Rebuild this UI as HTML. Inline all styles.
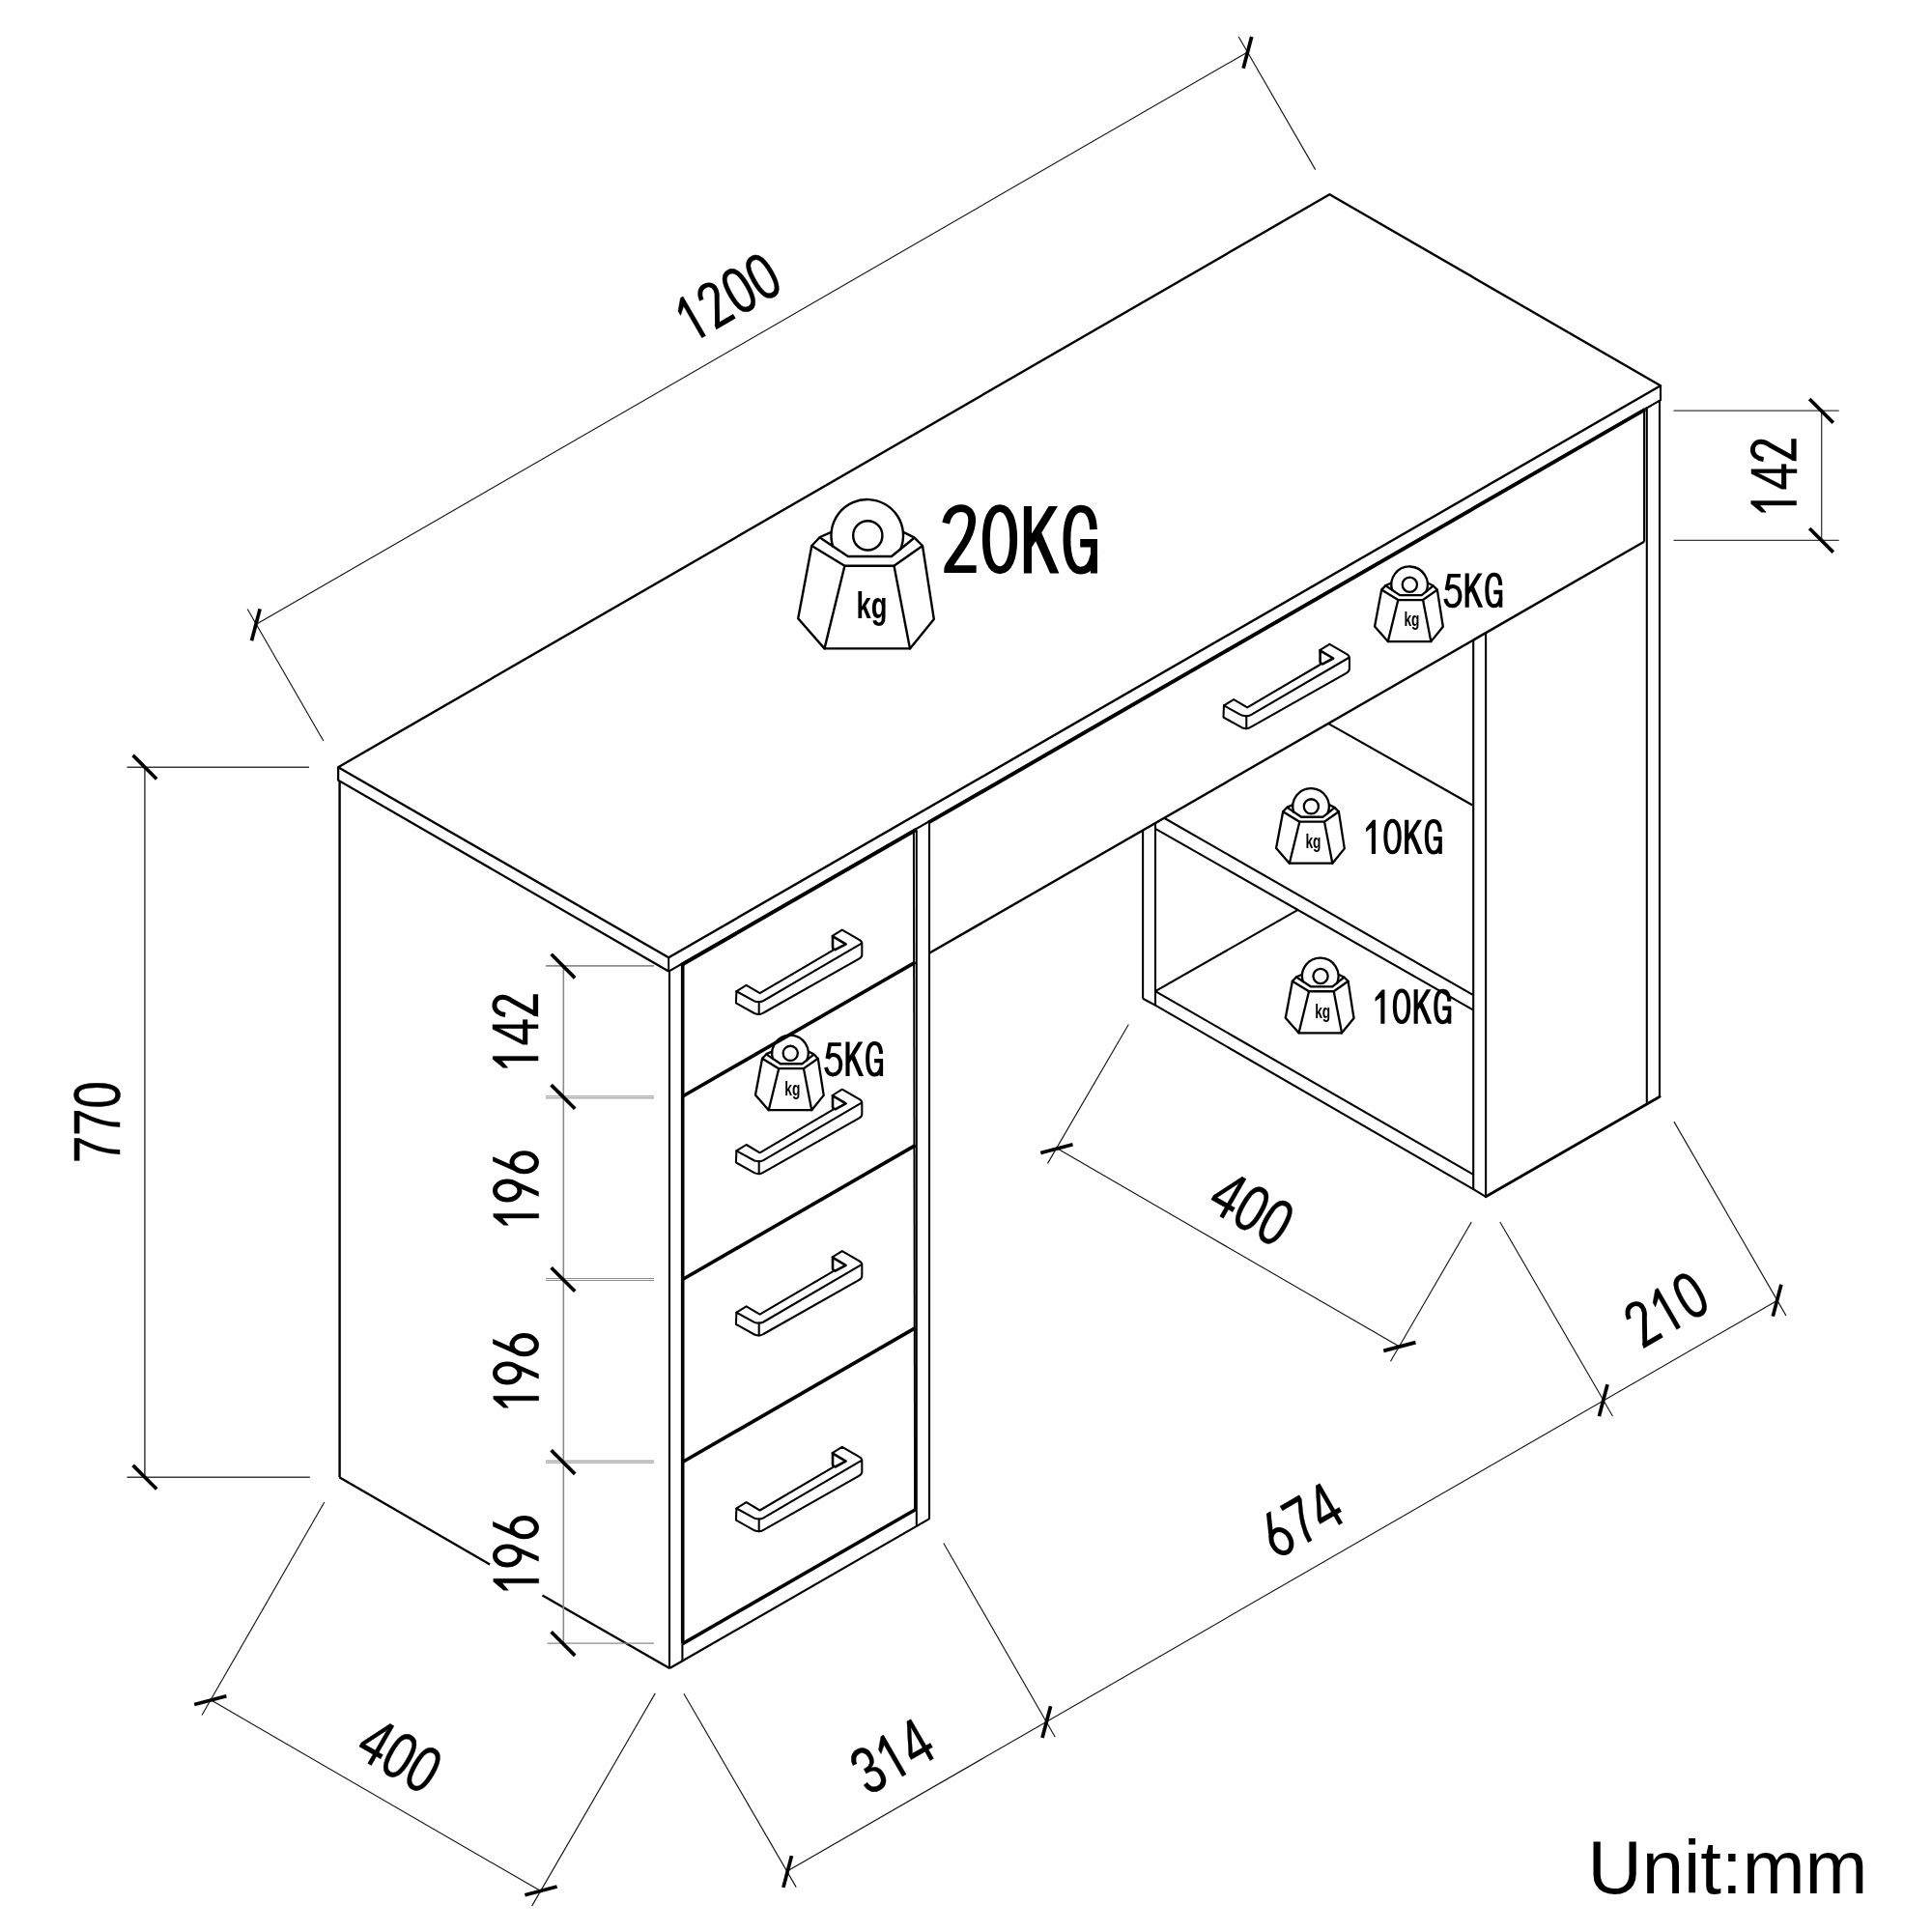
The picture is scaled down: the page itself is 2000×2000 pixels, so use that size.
<!DOCTYPE html>
<html><head><meta charset="utf-8"><title>Desk dimensions</title>
<style>
html,body{margin:0;padding:0;background:#fff;}
body{width:2000px;height:2000px;overflow:hidden;font-family:"Liberation Sans",sans-serif;}
svg{display:block;will-change:transform;}
</style></head><body>
<svg role="img" aria-label="Desk dimension drawing, unit mm" width="2000" height="2000" viewBox="0 0 2000 2000">
<rect width="2000" height="2000" fill="#fefefe"/>
<g id="desk">
<path d="M350.1 794.2 L1376.4 201.2 L1719.0 399.3 L692.2 991.2 Z" fill="none" stroke="#000" stroke-width="2.4" stroke-linejoin="round"/>
<path d="M350.1 794.2 L350.1 807.7 L692.2 1005.6" fill="none" stroke="#000" stroke-width="2.3" stroke-linejoin="miter"/>
<path d="M692.2 1005.6 L1719.0 414.2 L1719.0 399.3" fill="none" stroke="#000" stroke-width="2.1" stroke-linejoin="miter"/>
<line x1="692.2" y1="991.2" x2="692.2" y2="1005.6" stroke="#000" stroke-width="1.9" stroke-linecap="butt"/>
<line x1="351.6" y1="808.3" x2="351.6" y2="1529.2" stroke="#000" stroke-width="2.4" stroke-linecap="butt"/>
<line x1="351.3" y1="1529.2" x2="507.1" y2="1619.6" stroke="#000" stroke-width="2.3" stroke-linecap="butt"/>
<line x1="561.5" y1="1651.4" x2="693.2" y2="1727.0" stroke="#000" stroke-width="2.3" stroke-linecap="butt"/>
<line x1="693.0" y1="1005.6" x2="693.0" y2="1727.0" stroke="#000" stroke-width="2.1" stroke-linecap="butt"/>
<line x1="706.7" y1="998.0" x2="706.7" y2="1701.6" stroke="#000" stroke-width="3.6" stroke-linecap="butt"/>
<line x1="706.4" y1="1701.6" x2="706.4" y2="1719.4" stroke="#000" stroke-width="2.1" stroke-linecap="butt"/>
<line x1="693.2" y1="1727.0" x2="962.3" y2="1572.2" stroke="#000" stroke-width="2.1" stroke-linecap="butt"/>
<line x1="705.3" y1="999.0" x2="949.1" y2="858.5" stroke="#000" stroke-width="3.9" stroke-linecap="butt"/>
<line x1="706.6" y1="1135.0" x2="947.6" y2="996.1" stroke="#000" stroke-width="3.6" stroke-linecap="butt"/>
<line x1="706.6" y1="1324.5" x2="947.6" y2="1185.6" stroke="#000" stroke-width="3.6" stroke-linecap="butt"/>
<line x1="706.6" y1="1513.5" x2="947.6" y2="1374.6" stroke="#000" stroke-width="3.6" stroke-linecap="butt"/>
<line x1="706.6" y1="1701.6" x2="947.6" y2="1562.7" stroke="#000" stroke-width="3.6" stroke-linecap="butt"/>
<line x1="945.9" y1="861.5" x2="947.1" y2="1563.5" stroke="#000" stroke-width="2.0" stroke-linecap="butt"/>
<line x1="948.8" y1="860.0" x2="948.8" y2="1579.6" stroke="#000" stroke-width="2.0" stroke-linecap="butt"/>
<line x1="962.0" y1="851.0" x2="962.0" y2="1572.3" stroke="#000" stroke-width="2.1" stroke-linecap="butt"/>
<line x1="961.0" y1="851.6" x2="1703.0" y2="423.9" stroke="#000" stroke-width="3.9" stroke-linecap="butt"/>
<line x1="1702.1" y1="425.0" x2="1702.1" y2="560.8" stroke="#000" stroke-width="2.1" stroke-linecap="butt"/>
<line x1="961.9" y1="986.8" x2="1702.0" y2="560.8" stroke="#000" stroke-width="2.4" stroke-linecap="butt"/>
<line x1="1704.8" y1="421.0" x2="1704.8" y2="1141.8" stroke="#000" stroke-width="2.1" stroke-linecap="butt"/>
<line x1="1718.0" y1="414.2" x2="1718.0" y2="1135.6" stroke="#000" stroke-width="2.1" stroke-linecap="butt"/>
<line x1="1183.1" y1="859.0" x2="1183.1" y2="1033.7" stroke="#000" stroke-width="2.1" stroke-linecap="butt"/>
<line x1="1196.0" y1="852.0" x2="1196.0" y2="1040.6" stroke="#000" stroke-width="2.1" stroke-linecap="butt"/>
<path d="M1183.1 1033.7 L1196.0 1040.6 L1525.3 1231.2 L1538.1 1238.8" fill="none" stroke="#000" stroke-width="2.1" stroke-linejoin="miter"/>
<line x1="1538.1" y1="1238.8" x2="1718.2" y2="1135.3" stroke="#000" stroke-width="2.8" stroke-linecap="round"/>
<line x1="1525.2" y1="662.6" x2="1525.2" y2="1231.2" stroke="#000" stroke-width="2.1" stroke-linecap="butt"/>
<line x1="1538.1" y1="655.1" x2="1538.1" y2="1238.8" stroke="#000" stroke-width="2.1" stroke-linecap="butt"/>
<line x1="1205.5" y1="847.0" x2="1524.8" y2="1029.9" stroke="#000" stroke-width="2.1" stroke-linecap="butt"/>
<line x1="1196.0" y1="857.8" x2="1524.8" y2="1045.3" stroke="#000" stroke-width="2.1" stroke-linecap="butt"/>
<line x1="1375.7" y1="749.3" x2="1524.3" y2="833.5" stroke="#000" stroke-width="2.1" stroke-linecap="butt"/>
<line x1="1196.0" y1="1026.1" x2="1343.6" y2="941.8" stroke="#000" stroke-width="2.1" stroke-linecap="butt"/>
<line x1="1196.0" y1="1026.1" x2="1524.8" y2="1215.6" stroke="#000" stroke-width="2.1" stroke-linecap="butt"/>
</g>
<defs>
<g id="handle" fill="none" stroke="#000" stroke-width="2.05" stroke-linejoin="round" stroke-linecap="round">
<path d="M0 0 L10.2 -6.3 L24.2 2 L99.6 -42.4"/>
<path d="M99.2 -57.3 L109.4 -63.6 L126.7 -53.6 Q129.9 -51.7 129.9 -49.9 L129.9 -37.8 Q129.9 -35.5 126.7 -33.6 L27.9 22.3 Q25.6 23.8 23.3 23.8 Q21 23.8 18.6 22.8 L-0.5 12.1 L0 0 L18.6 10.2 Q21 10.9 23.3 10.9 Q25.6 10.9 27.9 9.8 L129.9 -49.9"/>
<path d="M23.3 10.9 L23.3 23.8"/>
<path d="M99.6 -57 L99.6 -45.6 Q99.8 -43.4 102.2 -43 L113.2 -48.9 L100.2 -56.6" stroke-width="2.6"/>
</g>
</defs>
<use href="#handle" x="762.4" y="1026.2"/>
<use href="#handle" x="762.4" y="1191.3"/>
<use href="#handle" x="762.4" y="1358.7"/>
<use href="#handle" x="762.4" y="1561.5"/>
<use href="#handle" x="1267.0" y="730.4"/>
<g id="dims">
<line x1="264.8" y1="646.5" x2="1291.1" y2="54.2" stroke="#111" stroke-width="1.1" stroke-linecap="butt"/>
<line x1="256.2" y1="630.4" x2="334.9" y2="767.1" stroke="#111" stroke-width="1.1" stroke-linecap="butt"/>
<line x1="1282.2" y1="37.9" x2="1361.7" y2="175.6" stroke="#111" stroke-width="1.1" stroke-linecap="butt"/>
<line x1="260.5" y1="663.2" x2="269.1" y2="630.4" stroke="#000" stroke-width="3.7" stroke-linecap="butt"/>
<line x1="1287.1" y1="70.8" x2="1295.7" y2="38.0" stroke="#000" stroke-width="3.7" stroke-linecap="butt"/>
<line x1="149.9" y1="794.2" x2="149.9" y2="1529.2" stroke="#3a3a3a" stroke-width="1.5" stroke-linecap="butt"/>
<line x1="131.5" y1="794.2" x2="320.0" y2="794.2" stroke="#3a3a3a" stroke-width="1.5" stroke-linecap="butt"/>
<line x1="131.5" y1="1529.2" x2="320.8" y2="1529.2" stroke="#3a3a3a" stroke-width="1.5" stroke-linecap="butt"/>
<line x1="137.6" y1="781.9" x2="162.2" y2="806.5" stroke="#000" stroke-width="3.7" stroke-linecap="butt"/>
<line x1="137.6" y1="1516.9" x2="162.2" y2="1541.5" stroke="#000" stroke-width="3.7" stroke-linecap="butt"/>
<line x1="1885.7" y1="425.2" x2="1885.7" y2="559.3" stroke="#3a3a3a" stroke-width="1.3" stroke-linecap="butt"/>
<line x1="1732.5" y1="425.2" x2="1903.7" y2="425.2" stroke="#3a3a3a" stroke-width="1.3" stroke-linecap="butt"/>
<line x1="1732.5" y1="559.3" x2="1903.7" y2="559.3" stroke="#3a3a3a" stroke-width="1.3" stroke-linecap="butt"/>
<line x1="1873.2" y1="413.0" x2="1897.8" y2="437.6" stroke="#000" stroke-width="3.7" stroke-linecap="butt"/>
<line x1="1873.2" y1="547.0" x2="1897.8" y2="571.6" stroke="#000" stroke-width="3.7" stroke-linecap="butt"/>
<line x1="583.3" y1="999.9" x2="583.3" y2="1701.2" stroke="#8c8c8c" stroke-width="1.6" stroke-linecap="butt"/>
<line x1="565.0" y1="999.9" x2="677.0" y2="999.9" stroke="#8c8c8c" stroke-width="1.6" stroke-linecap="butt"/>
<line x1="565.0" y1="1134.8" x2="677.0" y2="1134.8" stroke="#8c8c8c" stroke-width="1.0" stroke-linecap="butt"/>
<line x1="565.0" y1="1136.8" x2="677.0" y2="1136.8" stroke="#8c8c8c" stroke-width="1.0" stroke-linecap="butt"/>
<line x1="565.0" y1="1323.5" x2="677.0" y2="1323.5" stroke="#8c8c8c" stroke-width="1.0" stroke-linecap="butt"/>
<line x1="565.0" y1="1325.5" x2="677.0" y2="1325.5" stroke="#8c8c8c" stroke-width="1.0" stroke-linecap="butt"/>
<line x1="565.0" y1="1512.2" x2="677.0" y2="1512.2" stroke="#8c8c8c" stroke-width="1.0" stroke-linecap="butt"/>
<line x1="565.0" y1="1514.2" x2="677.0" y2="1514.2" stroke="#8c8c8c" stroke-width="1.0" stroke-linecap="butt"/>
<line x1="566.5" y1="1701.2" x2="677.0" y2="1701.2" stroke="#8c8c8c" stroke-width="1.3" stroke-linecap="butt"/>
<line x1="570.6" y1="987.8" x2="595.2" y2="1012.4" stroke="#000" stroke-width="3.7" stroke-linecap="butt"/>
<line x1="570.6" y1="1123.1" x2="595.2" y2="1147.7" stroke="#000" stroke-width="3.7" stroke-linecap="butt"/>
<line x1="570.6" y1="1312.2" x2="595.2" y2="1336.8" stroke="#000" stroke-width="3.7" stroke-linecap="butt"/>
<line x1="570.6" y1="1501.3" x2="595.2" y2="1525.9" stroke="#000" stroke-width="3.7" stroke-linecap="butt"/>
<line x1="570.6" y1="1689.3" x2="595.2" y2="1713.9" stroke="#000" stroke-width="3.7" stroke-linecap="butt"/>
<line x1="335.8" y1="1555.1" x2="209.0" y2="1775.6" stroke="#111" stroke-width="1.1" stroke-linecap="butt"/>
<line x1="678.3" y1="1752.9" x2="550.6" y2="1973.1" stroke="#111" stroke-width="1.1" stroke-linecap="butt"/>
<line x1="217.8" y1="1759.6" x2="558.4" y2="1956.8" stroke="#111" stroke-width="1.1" stroke-linecap="butt"/>
<line x1="201.2" y1="1764.5" x2="234.4" y2="1755.7" stroke="#000" stroke-width="3.7" stroke-linecap="butt"/>
<line x1="543.4" y1="1961.8" x2="576.6" y2="1953.0" stroke="#000" stroke-width="3.7" stroke-linecap="butt"/>
<line x1="707.9" y1="1753.2" x2="824.2" y2="1953.6" stroke="#111" stroke-width="1.1" stroke-linecap="butt"/>
<line x1="976.8" y1="1597.6" x2="1092.3" y2="1798.3" stroke="#111" stroke-width="1.1" stroke-linecap="butt"/>
<line x1="1552.8" y1="1265.0" x2="1669.4" y2="1466.0" stroke="#111" stroke-width="1.1" stroke-linecap="butt"/>
<line x1="1732.9" y1="1161.1" x2="1848.9" y2="1361.9" stroke="#111" stroke-width="1.1" stroke-linecap="butt"/>
<line x1="814.9" y1="1937.1" x2="1839.5" y2="1346.4" stroke="#111" stroke-width="1.1" stroke-linecap="butt"/>
<line x1="810.9" y1="1953.9" x2="819.5" y2="1921.1" stroke="#000" stroke-width="3.7" stroke-linecap="butt"/>
<line x1="1079.0" y1="1799.0" x2="1087.6" y2="1766.2" stroke="#000" stroke-width="3.7" stroke-linecap="butt"/>
<line x1="1655.4" y1="1466.1" x2="1664.0" y2="1433.3" stroke="#000" stroke-width="3.7" stroke-linecap="butt"/>
<line x1="1835.3" y1="1362.6" x2="1843.9" y2="1329.8" stroke="#000" stroke-width="3.7" stroke-linecap="butt"/>
<line x1="1168.3" y1="1060.5" x2="1084.5" y2="1204.4" stroke="#111" stroke-width="1.1" stroke-linecap="butt"/>
<line x1="1523.2" y1="1265.1" x2="1439.5" y2="1409.2" stroke="#111" stroke-width="1.1" stroke-linecap="butt"/>
<line x1="1093.8" y1="1188.6" x2="1448.8" y2="1394.1" stroke="#111" stroke-width="1.1" stroke-linecap="butt"/>
<line x1="1077.3" y1="1193.5" x2="1110.5" y2="1184.7" stroke="#000" stroke-width="3.7" stroke-linecap="butt"/>
<line x1="1432.3" y1="1398.4" x2="1465.5" y2="1389.6" stroke="#000" stroke-width="3.7" stroke-linecap="butt"/>
</g>
<g id="dimtext" font-family="'Liberation Sans', sans-serif" fill="#000" stroke="#000" stroke-width="0.45">
<g transform="translate(764.5 327.9) rotate(-30)" aria-label="1200"><path transform="translate(-56.52 0) scale(0.02481 -0.03330)" d="M515 0 V1135 L215 940 V1090 L575 1409 H696 V0 Z" stroke-width="13.5"/><g transform="translate(-28.26 0)"><path d="M3.7 -34.0 C4.4 -41 8.4 -45.2 13.2 -45.2 C18.4 -45.2 21.9 -41.6 21.9 -36.8 C21.9 -33 20.4 -30.3 18.3 -27.4 L5.3 -4.0" fill="none" stroke="#000" stroke-width="4.9"/><path d="M1.6 0 H24.9 V-5.3 H2.6 Z" stroke="none"/></g><text transform="translate(0.00 0) scale(0.745 1)" font-size="68.2">0</text><text transform="translate(28.26 0) scale(0.745 1)" font-size="68.2">0</text></g>
<g transform="translate(124.0 1161.6) rotate(-90)" aria-label="770"><text transform="translate(-42.39 0) scale(0.745 1)" font-size="68.2">7</text><text transform="translate(-14.13 0) scale(0.745 1)" font-size="68.2">7</text><text transform="translate(14.13 0) scale(0.745 1)" font-size="68.2">0</text></g>
<g transform="translate(1859.6 493.3) rotate(-90)" aria-label="142"><path transform="translate(-42.39 0) scale(0.02481 -0.03330)" d="M515 0 V1135 L215 940 V1090 L575 1409 H696 V0 Z" stroke-width="13.5"/><text transform="translate(-14.13 0) scale(0.745 1)" font-size="68.2">4</text><g transform="translate(14.13 0)"><path d="M3.7 -34.0 C4.4 -41 8.4 -45.2 13.2 -45.2 C18.4 -45.2 21.9 -41.6 21.9 -36.8 C21.9 -33 20.4 -30.3 18.3 -27.4 L5.3 -4.0" fill="none" stroke="#000" stroke-width="4.9"/><path d="M1.6 0 H24.9 V-5.3 H2.6 Z" stroke="none"/></g></g>
<g transform="translate(557.1 1068.3) rotate(-90)" aria-label="142"><path transform="translate(-42.39 0) scale(0.02481 -0.03330)" d="M515 0 V1135 L215 940 V1090 L575 1409 H696 V0 Z" stroke-width="13.5"/><text transform="translate(-14.13 0) scale(0.745 1)" font-size="68.2">4</text><g transform="translate(14.13 0)"><path d="M3.7 -34.0 C4.4 -41 8.4 -45.2 13.2 -45.2 C18.4 -45.2 21.9 -41.6 21.9 -36.8 C21.9 -33 20.4 -30.3 18.3 -27.4 L5.3 -4.0" fill="none" stroke="#000" stroke-width="4.9"/><path d="M1.6 0 H24.9 V-5.3 H2.6 Z" stroke="none"/></g></g>
<g transform="translate(557.7 1231.3) rotate(-90)" aria-label="196"><path transform="translate(-42.39 0) scale(0.02481 -0.03330)" d="M515 0 V1135 L215 940 V1090 L575 1409 H696 V0 Z" stroke-width="13.5"/><g transform="translate(-14.13 0)"><ellipse cx="12.9" cy="-32.5" rx="9.6" ry="12.75" fill="none" stroke="#000" stroke-width="4.9"/><path d="M22.4 -23.6 L12.0 0 L6.8 0 L14.3 -16.8 L17.5 -21.5 Z" stroke="none"/></g><g transform="translate(14.13 0)"><g transform="rotate(180 13.4 -23.75)"><ellipse cx="12.9" cy="-32.5" rx="9.6" ry="12.75" fill="none" stroke="#000" stroke-width="4.9"/><path d="M22.4 -23.6 L12.0 0 L6.8 0 L14.3 -16.8 L17.5 -21.5 Z" stroke="none"/></g></g></g>
<g transform="translate(557.7 1420.2) rotate(-90)" aria-label="196"><path transform="translate(-42.39 0) scale(0.02481 -0.03330)" d="M515 0 V1135 L215 940 V1090 L575 1409 H696 V0 Z" stroke-width="13.5"/><g transform="translate(-14.13 0)"><ellipse cx="12.9" cy="-32.5" rx="9.6" ry="12.75" fill="none" stroke="#000" stroke-width="4.9"/><path d="M22.4 -23.6 L12.0 0 L6.8 0 L14.3 -16.8 L17.5 -21.5 Z" stroke="none"/></g><g transform="translate(14.13 0)"><g transform="rotate(180 13.4 -23.75)"><ellipse cx="12.9" cy="-32.5" rx="9.6" ry="12.75" fill="none" stroke="#000" stroke-width="4.9"/><path d="M22.4 -23.6 L12.0 0 L6.8 0 L14.3 -16.8 L17.5 -21.5 Z" stroke="none"/></g></g></g>
<g transform="translate(557.7 1609.2) rotate(-90)" aria-label="196"><path transform="translate(-42.39 0) scale(0.02481 -0.03330)" d="M515 0 V1135 L215 940 V1090 L575 1409 H696 V0 Z" stroke-width="13.5"/><g transform="translate(-14.13 0)"><ellipse cx="12.9" cy="-32.5" rx="9.6" ry="12.75" fill="none" stroke="#000" stroke-width="4.9"/><path d="M22.4 -23.6 L12.0 0 L6.8 0 L14.3 -16.8 L17.5 -21.5 Z" stroke="none"/></g><g transform="translate(14.13 0)"><g transform="rotate(180 13.4 -23.75)"><ellipse cx="12.9" cy="-32.5" rx="9.6" ry="12.75" fill="none" stroke="#000" stroke-width="4.9"/><path d="M22.4 -23.6 L12.0 0 L6.8 0 L14.3 -16.8 L17.5 -21.5 Z" stroke="none"/></g></g></g>
<g transform="translate(402.3 1837.8) rotate(30)" aria-label="400"><text transform="translate(-42.39 0) scale(0.745 1)" font-size="68.2">4</text><text transform="translate(-14.13 0) scale(0.745 1)" font-size="68.2">0</text><text transform="translate(14.13 0) scale(0.745 1)" font-size="68.2">0</text></g>
<g transform="translate(935.3 1838.3) rotate(-30)" aria-label="314"><text transform="translate(-42.39 0) scale(0.745 1)" font-size="68.2">3</text><path transform="translate(-14.13 0) scale(0.02481 -0.03330)" d="M515 0 V1135 L215 940 V1090 L575 1409 H696 V0 Z" stroke-width="13.5"/><text transform="translate(14.13 0) scale(0.745 1)" font-size="68.2">4</text></g>
<g transform="translate(1358.6 1594.3) rotate(-30)" aria-label="674"><g transform="translate(-42.39 0)"><g transform="rotate(180 13.4 -23.75)"><ellipse cx="12.9" cy="-32.5" rx="9.6" ry="12.75" fill="none" stroke="#000" stroke-width="4.9"/><path d="M22.4 -23.6 L12.0 0 L6.8 0 L14.3 -16.8 L17.5 -21.5 Z" stroke="none"/></g></g><text transform="translate(-14.13 0) scale(0.745 1)" font-size="68.2">7</text><text transform="translate(14.13 0) scale(0.745 1)" font-size="68.2">4</text></g>
<g transform="translate(1736.9 1375.6) rotate(-30)" aria-label="210"><g transform="translate(-42.39 0)"><path d="M3.7 -34.0 C4.4 -41 8.4 -45.2 13.2 -45.2 C18.4 -45.2 21.9 -41.6 21.9 -36.8 C21.9 -33 20.4 -30.3 18.3 -27.4 L5.3 -4.0" fill="none" stroke="#000" stroke-width="4.9"/><path d="M1.6 0 H24.9 V-5.3 H2.6 Z" stroke="none"/></g><path transform="translate(-14.13 0) scale(0.02481 -0.03330)" d="M515 0 V1135 L215 940 V1090 L575 1409 H696 V0 Z" stroke-width="13.5"/><text transform="translate(14.13 0) scale(0.745 1)" font-size="68.2">0</text></g>
<g transform="translate(1284.3 1271.4) rotate(30)" aria-label="400"><text transform="translate(-42.39 0) scale(0.745 1)" font-size="68.2">4</text><text transform="translate(-14.13 0) scale(0.745 1)" font-size="68.2">0</text><text transform="translate(14.13 0) scale(0.745 1)" font-size="68.2">0</text></g>
<text x="1643.5" y="1960" font-size="77.9" stroke="none">Unit:mm</text>
</g>
<defs>
<g id="wt" fill="none" stroke="#000" stroke-linejoin="round" stroke-linecap="round">
<path d="M862.2 565.7 A37.3 37.3 0 1 1 932.2 568.6"/>
<circle cx="898.3" cy="554.4" r="15.1"/>
<path d="M859.4 551.4 L848.8 556 L840.3 565 L826.2 640.3 L853.5 671.4 L942 671.4 L966.8 640.9 L955 565 L946.3 556.3 L936.2 551.4"/>
<path d="M840.3 565 L874.4 585.8 L925.5 585.8 L955 565"/>
<path d="M848.8 556.4 L877.9 576 L922.9 576 L946.2 557"/>
<path d="M874.4 585.8 L853.5 671.4 M925.5 585.8 L942 671.4"/>
</g>
</defs>
<g transform="translate(0.0 0.0) scale(1)"><use href="#wt" stroke-width="2.40"/><text transform="translate(902.5 640.2) scale(0.71 1)" font-family="'Liberation Sans', sans-serif" font-weight="bold" font-size="38.5" text-anchor="middle" fill="#000">kg</text></g>
<g transform="translate(1007.5 326.4) scale(0.503)"><use href="#wt" stroke-width="4.57"/><text transform="translate(902.5 640.2) scale(0.71 1)" font-family="'Liberation Sans', sans-serif" font-weight="bold" font-size="38.5" text-anchor="middle" fill="#000">kg</text></g>
<g transform="translate(905.5 556.0) scale(0.503)"><use href="#wt" stroke-width="4.57"/><text transform="translate(902.5 640.2) scale(0.71 1)" font-family="'Liberation Sans', sans-serif" font-weight="bold" font-size="38.5" text-anchor="middle" fill="#000">kg</text></g>
<g transform="translate(915.2 731.6) scale(0.503)"><use href="#wt" stroke-width="4.57"/><text transform="translate(902.5 640.2) scale(0.71 1)" font-family="'Liberation Sans', sans-serif" font-weight="bold" font-size="38.5" text-anchor="middle" fill="#000">kg</text></g>
<g transform="translate(366.4 811.5) scale(0.503)"><use href="#wt" stroke-width="4.57"/><text transform="translate(902.5 640.2) scale(0.71 1)" font-family="'Liberation Sans', sans-serif" font-weight="bold" font-size="38.5" text-anchor="middle" fill="#000">kg</text></g>
<defs>
<g id="g2"><path d="M70 -557 C95 -675 165 -724 238 -724 C318 -724 360 -668 360 -592 C360 -510 330 -440 298 -377 C260 -300 160 -170 110 -92 C95 -70 92 -60 92 -47 L408 -47" fill="none" stroke="#000" stroke-width="84"/></g>
<g id="g0"><path d="M222 -724 C316 -724 374 -593 374 -380 C374 -167 316 -36 222 -36 C128 -36 70 -167 70 -380 C70 -593 128 -724 222 -724 Z" fill="none" stroke="#000" stroke-width="84"/></g>
<g id="gK"><path d="M41 0 L41 -747 L128 -747 L128 -442 L318 -747 L418 -747 L238 -452 L433 0 L333 0 L173 -357 L128 -287 L128 0 Z" fill="#000"/></g>
<g id="gG"><path d="M367 -487 C362 -640 312 -719 225 -719 C130 -719 72 -600 72 -380 C72 -160 130 -32 225 -32 C300 -32 350 -90 372 -200" fill="none" stroke="#000" stroke-width="84"/><path d="M220 -382 L410 -382 L410 0 L335 0 L335 -290 L220 -290 Z" fill="#000"/></g>
<g id="g5"><path d="M388 -696 L142 -696 L85 -381" fill="none" stroke="#000" stroke-width="80"/><path d="M93 -385 C122 -433 165 -464 213 -464 C318 -464 380 -376 380 -249 C380 -122 310 -33 205 -33 C126 -33 78 -87 58 -192" fill="none" stroke="#000" stroke-width="84"/></g>
<g id="g1"><path d="M298 0 L298 -743 L240 -743 L90 -566 L90 -483 L211 -577 L211 0 Z" fill="#000"/></g>
</defs>
<g aria-label="20KG" transform="translate(972.64 593.57) scale(0.09317)"><use href="#g2" x="0.0"/><use href="#g0" x="447.6"/><use href="#gK" x="895.2"/><use href="#gG" x="1342.8"/></g>
<g aria-label="5KG" transform="translate(1493.53 628.86) scale(0.04733)"><use href="#g5" x="0.0"/><use href="#gK" x="447.6"/><use href="#gG" x="895.2"/></g>
<g aria-label="10KG" transform="translate(1409.84 884.00) scale(0.04733)"><use href="#g1" x="0.0"/><use href="#g0" x="447.6"/><use href="#gK" x="895.2"/><use href="#gG" x="1342.8"/></g>
<g aria-label="10KG" transform="translate(1419.34 1059.70) scale(0.04733)"><use href="#g1" x="0.0"/><use href="#g0" x="447.6"/><use href="#gK" x="895.2"/><use href="#gG" x="1342.8"/></g>
<g aria-label="5KG" transform="translate(852.33 1113.96) scale(0.04733)"><use href="#g5" x="0.0"/><use href="#gK" x="447.6"/><use href="#gG" x="895.2"/></g>
</svg>
</body></html>
